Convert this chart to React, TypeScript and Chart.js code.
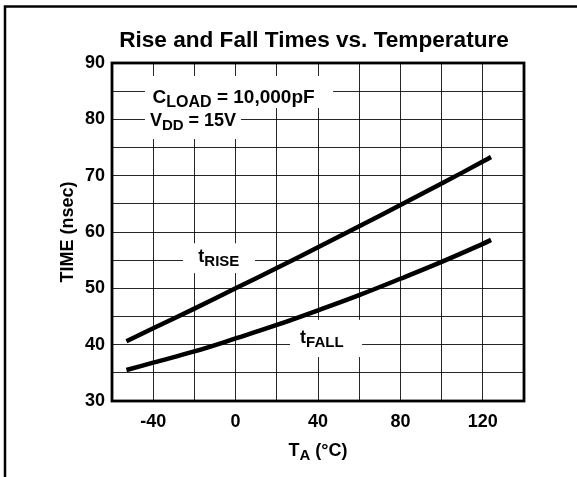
import React, { useEffect, useRef } from "react";
import { Chart, registerables } from "chart.js";

Chart.register(...registerables);

// ---- data ----
const riseTemperatures = [-53, -40, -20, 0, 20, 40, 60, 80, 100, 120, 124];
const riseTimes = [40.6, 42.9, 46.4, 50.0, 53.6, 57.3, 61.0, 64.8, 68.6, 72.5, 73.3];
const fallTemperatures = [-53, -40, -20, 0, 20, 40, 60, 80, 100, 120, 124];
const fallTimes = [35.5, 36.8, 38.8, 41.1, 43.5, 46.1, 48.8, 51.7, 54.7, 57.9, 58.6];
const xTickLabels = [-40, 0, 40, 80, 120];
const yTickLabels = [30, 40, 50, 60, 70, 80, 90];

const FONT = "'Liberation Sans', Arial, Helvetica, sans-serif";

type Part = { text: string; sub?: boolean };

function partFont(p: Part, size: number) {
  return `bold ${p.sub ? Math.round(size * 0.82) : size}px ${FONT}`;
}

function richWidth(ctx: CanvasRenderingContext2D, parts: Part[], size: number) {
  let w = 0;
  for (const p of parts) {
    ctx.font = partFont(p, size);
    w += ctx.measureText(p.text).width;
  }
  return w;
}

function drawRich(ctx: CanvasRenderingContext2D, parts: Part[], x: number, baseline: number, size: number) {
  let cx = x;
  ctx.textAlign = "left";
  ctx.textBaseline = "alphabetic";
  for (const p of parts) {
    ctx.font = partFont(p, size);
    ctx.fillText(p.text, cx, p.sub ? baseline + 4 : baseline);
    cx += ctx.measureText(p.text).width;
  }
}

// annotation boxes (in data units) that mask the grid behind labels
const maskBoxes = [
  { x0: -44, x1: 47.3, y0: 87.7, y1: 82.0 },
  { x0: -44, x1: 2.6, y0: 82.0, y1: 76.5 },
  { x0: -25.5, x1: 9.4, y0: 58.0, y1: 52.7 },
  { x0: 26.4, x1: 61.4, y0: 44.4, y1: 37.8 },
];

const labels: { x: number; y: number; size: number; parts: Part[] }[] = [
  { x: -40.3, y: 82.85, size: 19, parts: [{ text: "C" }, { text: "LOAD", sub: true }, { text: " = 10,000pF" }] },
  { x: -41.6, y: 78.8, size: 18, parts: [{ text: "V" }, { text: "DD", sub: true }, { text: " = 15V" }] },
  { x: -18.1, y: 54.7, size: 18, parts: [{ text: "t" }, { text: "RISE", sub: true }] },
  { x: 31.3, y: 40.3, size: 18, parts: [{ text: "t" }, { text: "FALL", sub: true }] },
];

const decorPlugin = {
  id: "decor",
  beforeDatasetsDraw(chart: any) {
    const { ctx, scales } = chart;
    const xs = scales.x;
    const ys = scales.y;
    ctx.save();
    ctx.fillStyle = "#ffffff";
    for (const b of maskBoxes) {
      const x0 = xs.getPixelForValue(b.x0);
      const x1 = xs.getPixelForValue(b.x1);
      const y0 = ys.getPixelForValue(b.y0);
      const y1 = ys.getPixelForValue(b.y1);
      ctx.fillRect(x0, y0, x1 - x0, y1 - y0);
    }
    ctx.fillStyle = "#000";
    for (const l of labels) {
      drawRich(ctx, l.parts, xs.getPixelForValue(l.x), ys.getPixelForValue(l.y), l.size);
    }
    ctx.restore();
  },
  afterDraw(chart: any) {
    const { ctx, chartArea } = chart;
    const { left, right, top, bottom } = chartArea;
    ctx.save();
    // plot frame
    ctx.strokeStyle = "#000";
    ctx.lineWidth = 2.8;
    ctx.strokeRect(left, top, right - left, bottom - top);
    // outer frame (left and top edges)
    ctx.lineWidth = 2.5;
    ctx.beginPath();
    ctx.moveTo(5, 477);
    ctx.lineTo(5, 6.5);
    ctx.lineTo(577, 6.5);
    ctx.stroke();
    // title
    ctx.fillStyle = "#000";
    ctx.font = `bold 22.6px ${FONT}`;
    ctx.textAlign = "center";
    ctx.textBaseline = "alphabetic";
    ctx.fillText("Rise and Fall Times vs. Temperature", 314, 47);
    // y axis title
    ctx.save();
    ctx.translate(68, (top + bottom) / 2);
    ctx.rotate(-Math.PI / 2);
    ctx.font = `bold 18px ${FONT}`;
    ctx.textAlign = "center";
    ctx.textBaseline = "middle";
    ctx.fillText("TIME (nsec)", 0, 0);
    ctx.restore();
    // x axis title
    const xt: Part[] = [{ text: "T" }, { text: "A", sub: true }, { text: " (°C)" }];
    const w = richWidth(ctx, xt, 18);
    drawRich(ctx, xt, (left + right) / 2 - w / 2, 456, 18);
    ctx.restore();
  },
};

export default function App() {
  const canvasRef = useRef<HTMLCanvasElement | null>(null);

  useEffect(() => {
    document.body.style.margin = "0";
    const canvas = canvasRef.current;
    if (!canvas) return;
    const chart = new Chart(canvas, {
      type: "line",
      data: {
        datasets: [
          {
            label: "tRISE",
            data: riseTemperatures.map((t, i) => ({ x: t, y: riseTimes[i] })),
            borderColor: "#000",
            borderWidth: 4.5,
            pointRadius: 0,
            tension: 0.4,
            fill: false,
          },
          {
            label: "tFALL",
            data: fallTemperatures.map((t, i) => ({ x: t, y: fallTimes[i] })),
            borderColor: "#000",
            borderWidth: 4.5,
            pointRadius: 0,
            tension: 0.4,
            fill: false,
          },
        ],
      },
      options: {
        animation: false,
        responsive: false,
        devicePixelRatio: 1,
        layout: { padding: { top: 63, right: 53, left: 0, bottom: 0 } },
        plugins: {
          legend: { display: false },
          title: { display: false },
          tooltip: { enabled: false },
        },
        scales: {
          x: {
            type: "linear",
            min: -60,
            max: 140,
            afterFit: (s: any) => {
              s.height = 76;
            },
            border: { display: false },
            grid: { color: "rgba(0,0,0,0.85)", lineWidth: 1, drawTicks: false },
            ticks: {
              stepSize: 20,
              autoSkip: false,
              maxRotation: 0,
              padding: 10,
              color: "#000",
              font: { family: FONT, size: 18, weight: "bold" },
              callback: (v: any) => (xTickLabels.includes(Number(v)) ? String(v) : ""),
            },
          },
          y: {
            type: "linear",
            min: 30,
            max: 90,
            afterFit: (s: any) => {
              s.width = 112;
            },
            border: { display: false },
            grid: { color: "rgba(0,0,0,0.85)", lineWidth: 1, drawTicks: false },
            ticks: {
              stepSize: 5,
              autoSkip: false,
              padding: 7,
              color: "#000",
              font: { family: FONT, size: 18, weight: "bold" },
              callback: (v: any) => (yTickLabels.includes(Number(v)) ? String(v) : ""),
            },
          },
        },
      },
      plugins: [decorPlugin],
    } as any);
    return () => chart.destroy();
  }, []);

  return (
    <div style={{ position: "absolute", left: 0, top: 0, width: 577, height: 477 }}>
      <canvas ref={canvasRef} width={577} height={477} />
    </div>
  );
}
